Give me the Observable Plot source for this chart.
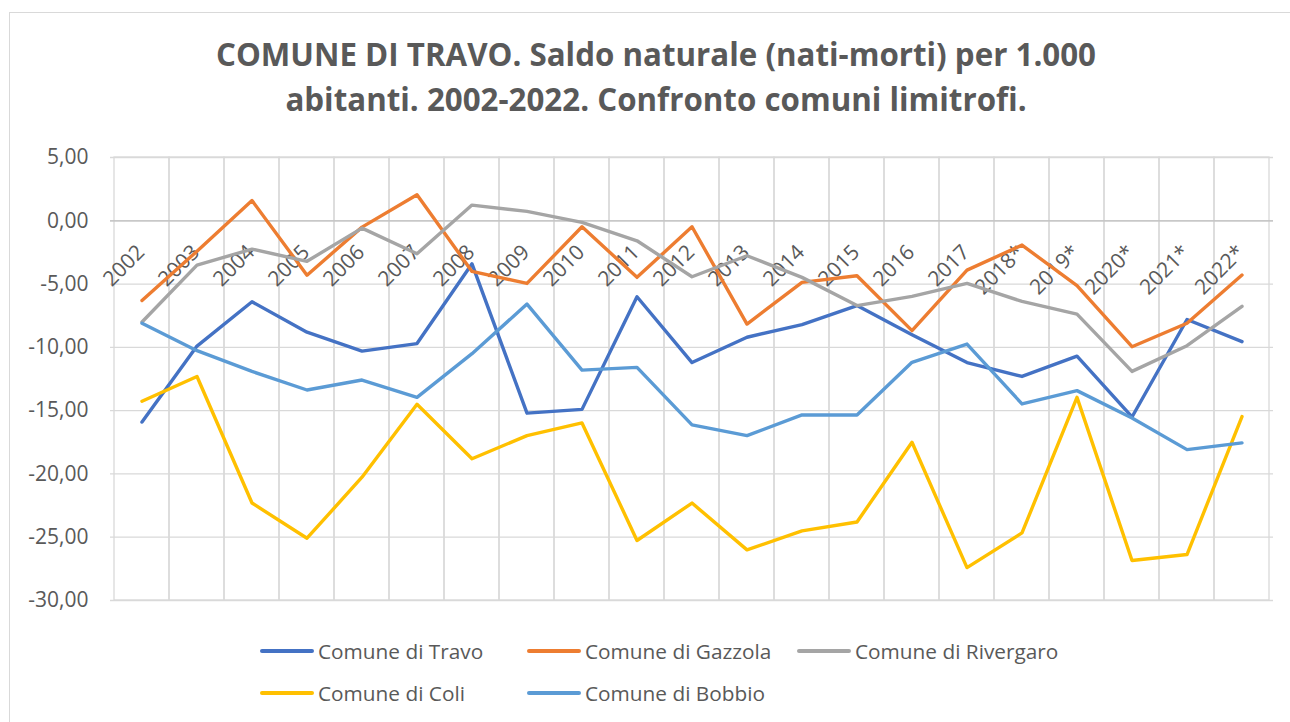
<!DOCTYPE html>
<html>
<head>
<meta charset="utf-8">
<script src="https://cdn.jsdelivr.net/npm/d3@7"></script>
<script src="https://cdn.jsdelivr.net/npm/@observablehq/plot@0.6"></script>
<style>
  html, body { margin: 0; padding: 0; background: #fff; }
  #wrap { position: relative; width: 1290px; height: 722px; overflow: hidden; font-family: "Open Sans", sans-serif; color: #595959; }
  #frame { position: absolute; left: 9px; top: 12px; width: 1300px; height: 720px; border: 1px solid #d9d9d9; box-sizing: border-box; }
  .title { position: absolute; left: 0; width: 1312px; text-align: center; font-weight: 700; font-size: 31.3px; line-height: 1; white-space: nowrap; }
  #chart { position: absolute; left: 0; top: 0; }
  .leg { position: absolute; display: flex; align-items: center; font-size: 20.8px; white-space: nowrap; }
  .sw { width: 54px; height: 4px; border-radius: 2px; margin-right: 4px; }
</style>
</head>
<body>
<div id="wrap">
  <div id="frame"></div>
  <div id="chart"></div>
  <div class="title" id="t1" style="top:39px;">COMUNE DI TRAVO. Saldo naturale (nati-morti) per 1.000</div>
  <div class="title" id="t2" style="top:84px;">abitanti. 2002-2022. Confronto comuni limitrofi.</div>
  <div id="legend"></div>
</div>
<script>
const years = ["2002","2003","2004","2005","2006","2007","2008","2009","2010","2011","2012","2013","2014","2015","2016","2017","2018*","2019*","2020*","2021*","2022*"];
const seriesNames = ["Comune di Travo","Comune di Gazzola","Comune di Rivergaro","Comune di Coli","Comune di Bobbio"];
const seriesColors = ["#4472C4","#ED7D31","#A5A5A5","#FFC000","#5B9BD5"];
const travo     = [-15.9,-9.9,-6.4,-8.8,-10.3,-9.7,-3.4,-15.2,-14.9,-6.0,-11.2,-9.2,-8.2,-6.7,-9.0,-11.2,-12.3,-10.7,-15.5,-7.8,-9.55];
const gazzola   = [-6.3,-2.4,1.6,-4.3,-0.5,2.05,-4.0,-4.95,-0.47,-4.47,-0.47,-8.16,-4.87,-4.34,-8.68,-3.9,-1.92,-5.13,-9.95,-8.1,-4.29];
const rivergaro = [-8.0,-3.5,-2.24,-3.2,-0.58,-2.6,1.24,0.74,-0.13,-1.58,-4.42,-2.76,-4.47,-6.7,-5.97,-4.95,-6.37,-7.37,-11.9,-9.87,-6.76];
const coli      = [-14.26,-12.3,-22.3,-25.08,-20.26,-14.5,-18.8,-16.97,-15.97,-25.26,-22.3,-26.0,-24.5,-23.8,-17.5,-27.4,-24.66,-13.95,-26.84,-26.37,-15.47];
const bobbio    = [-8.1,-10.26,-11.9,-13.37,-12.58,-13.95,-10.5,-6.58,-11.8,-11.58,-16.13,-16.97,-15.34,-15.34,-11.18,-9.74,-14.47,-13.42,-15.58,-18.08,-17.55];
const yTicks = [5,0,-5,-10,-15,-20,-25,-30];

const allSeries = [travo, gazzola, rivergaro, coli, bobbio];
const rows = [];
allSeries.forEach((vals, s) => vals.forEach((v, i) => rows.push({series: seriesNames[s], year: years[i], value: v})));

const fmt = d => d.toFixed(2).replace(".", ",");

const chart = Plot.plot({
  width: 1290,
  height: 620,
  marginLeft: 110,
  marginRight: 17,
  marginTop: 157,
  marginBottom: 20,
  style: {fontFamily: "'Open Sans', sans-serif", color: "#595959", background: "transparent"},
  x: {type: "band", domain: years, padding: 0, axis: null},
  y: {domain: [-30, 5], axis: null, label: null},
  color: {domain: seriesNames, range: seriesColors},
  marks: [
    Plot.ruleY(yTicks, {stroke: "#d9d9d9", strokeWidth: 1.3}),
    Plot.barY(years, {x: d => d, y1: () => -30, y2: () => 5, fill: "none", stroke: "#d9d9d9", strokeWidth: 1.3}),
    Plot.ruleY([0], {stroke: "#bfbfbf", strokeWidth: 1.3}),
    Plot.axisY(yTicks, {tickSize: 0, tickPadding: 22, tickFormat: fmt, fontSize: 21, fill: "#595959", label: null}),
    Plot.text(years, {x: d => d, y: () => 0, text: d => d, rotate: -45, textAnchor: "end", dx: -1, dy: 28, fontSize: 21, fill: "#595959"}),
    Plot.lineY(rows, {x: "year", y: "value", z: "series", stroke: "series", strokeWidth: 3.4, strokeLinejoin: "round", strokeLinecap: "round"})
  ]
});
document.getElementById("chart").appendChild(chart);

// legend
const legPos = [[260, 651], [527, 651], [797, 651], [260, 693], [527, 693]];
const legend = document.getElementById("legend");
seriesNames.forEach((name, i) => {
  const item = document.createElement("div");
  item.className = "leg";
  item.style.left = legPos[i][0] + "px";
  item.style.top = (legPos[i][1] - 14) + "px";
  item.style.height = "28px";
  const sw = document.createElement("div");
  sw.className = "sw";
  sw.style.background = seriesColors[i];
  const tx = document.createElement("span");
  tx.textContent = name;
  item.appendChild(sw);
  item.appendChild(tx);
  legend.appendChild(item);
});
</script>
</body>
</html>
